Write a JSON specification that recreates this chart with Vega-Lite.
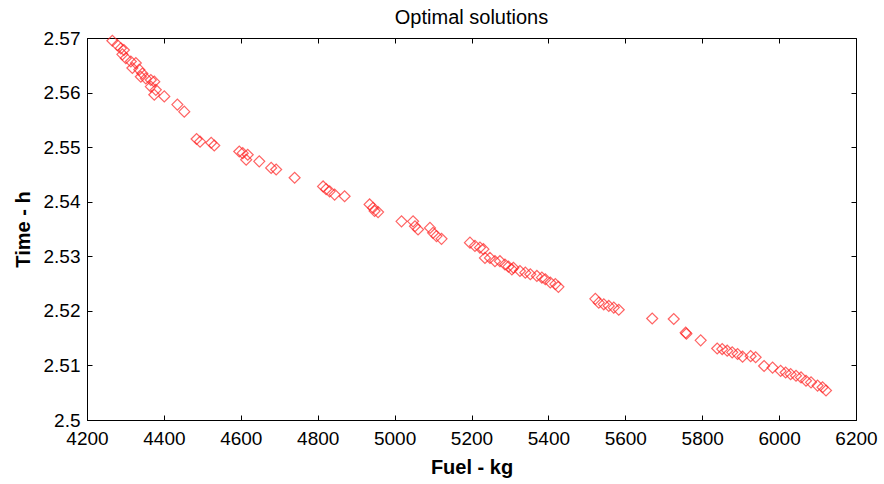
{
  "$schema": "https://vega.github.io/schema/vega-lite/v6.json",
  "autosize": {"type": "none"},
  "padding": {"left": 87, "top": 38, "right": 28, "bottom": 64},
  "width": 769,
  "height": 382,
  "background": "white",
  "title": {"text": "Optimal solutions", "fontSize": 20, "fontWeight": "normal", "font": "Liberation Sans", "color": "#000", "offset": 1},
  "config": {
    "view": {"stroke": "#000", "strokeWidth": 1},
    "axis": {
      "grid": false,
      "domainColor": "#000",
      "tickColor": "#000",
      "tickSize": 5,
      "labelFont": "Liberation Sans",
      "labelFontSize": 19,
      "labelColor": "#000",
      "titleFont": "Liberation Sans",
      "titleFontSize": 20,
      "titleFontWeight": "bold",
      "titleColor": "#000"
    }
  },
  "data": {"values": [
    {"fuel": 4266, "time": 2.5695}, {"fuel": 4279, "time": 2.5687}, {"fuel": 4288, "time": 2.5681}, {"fuel": 4296, "time": 2.5678},
    {"fuel": 4292, "time": 2.5670}, {"fuel": 4301, "time": 2.5663}, {"fuel": 4314, "time": 2.5657}, {"fuel": 4327, "time": 2.5654},
    {"fuel": 4318, "time": 2.5645}, {"fuel": 4336, "time": 2.5642}, {"fuel": 4344, "time": 2.5635}, {"fuel": 4340, "time": 2.5629},
    {"fuel": 4353, "time": 2.5626}, {"fuel": 4366, "time": 2.5623}, {"fuel": 4375, "time": 2.5620}, {"fuel": 4366, "time": 2.5611},
    {"fuel": 4379, "time": 2.5605}, {"fuel": 4375, "time": 2.5596}, {"fuel": 4401, "time": 2.5593}, {"fuel": 4435, "time": 2.5578},
    {"fuel": 4453, "time": 2.5565}, {"fuel": 4485, "time": 2.5515}, {"fuel": 4494, "time": 2.5510}, {"fuel": 4523, "time": 2.5508},
    {"fuel": 4531, "time": 2.5503}, {"fuel": 4596, "time": 2.5492}, {"fuel": 4605, "time": 2.5489}, {"fuel": 4618, "time": 2.5486},
    {"fuel": 4614, "time": 2.5477}, {"fuel": 4648, "time": 2.5474}, {"fuel": 4679, "time": 2.5462}, {"fuel": 4692, "time": 2.5459},
    {"fuel": 4740, "time": 2.5444}, {"fuel": 4814, "time": 2.5428}, {"fuel": 4822, "time": 2.5423}, {"fuel": 4831, "time": 2.5419},
    {"fuel": 4844, "time": 2.5413}, {"fuel": 4870, "time": 2.5410}, {"fuel": 4935, "time": 2.5395}, {"fuel": 4944, "time": 2.5389},
    {"fuel": 4948, "time": 2.5383}, {"fuel": 4957, "time": 2.5381}, {"fuel": 5018, "time": 2.5364}, {"fuel": 5048, "time": 2.5364},
    {"fuel": 5053, "time": 2.5355}, {"fuel": 5061, "time": 2.5349}, {"fuel": 5092, "time": 2.5352}, {"fuel": 5100, "time": 2.5343},
    {"fuel": 5109, "time": 2.5337}, {"fuel": 5122, "time": 2.5332}, {"fuel": 5196, "time": 2.5325}, {"fuel": 5209, "time": 2.5319},
    {"fuel": 5222, "time": 2.5316}, {"fuel": 5231, "time": 2.5313}, {"fuel": 5235, "time": 2.5297}, {"fuel": 5248, "time": 2.5297},
    {"fuel": 5261, "time": 2.5291}, {"fuel": 5274, "time": 2.5291}, {"fuel": 5287, "time": 2.5285}, {"fuel": 5296, "time": 2.5281},
    {"fuel": 5305, "time": 2.5276}, {"fuel": 5309, "time": 2.5279}, {"fuel": 5326, "time": 2.5273}, {"fuel": 5340, "time": 2.5270},
    {"fuel": 5353, "time": 2.5267}, {"fuel": 5370, "time": 2.5264}, {"fuel": 5383, "time": 2.5261}, {"fuel": 5392, "time": 2.5258},
    {"fuel": 5405, "time": 2.5252}, {"fuel": 5418, "time": 2.5249}, {"fuel": 5426, "time": 2.5244}, {"fuel": 5522, "time": 2.5222},
    {"fuel": 5531, "time": 2.5215}, {"fuel": 5544, "time": 2.5212}, {"fuel": 5557, "time": 2.5209}, {"fuel": 5570, "time": 2.5206},
    {"fuel": 5583, "time": 2.5202}, {"fuel": 5670, "time": 2.5186}, {"fuel": 5726, "time": 2.5185}, {"fuel": 5757, "time": 2.5160},
    {"fuel": 5759, "time": 2.5158}, {"fuel": 5796, "time": 2.5146}, {"fuel": 5839, "time": 2.5131}, {"fuel": 5852, "time": 2.5130},
    {"fuel": 5865, "time": 2.5127}, {"fuel": 5878, "time": 2.5124}, {"fuel": 5892, "time": 2.5121}, {"fuel": 5905, "time": 2.5116},
    {"fuel": 5926, "time": 2.5117}, {"fuel": 5939, "time": 2.5115}, {"fuel": 5961, "time": 2.5099}, {"fuel": 5983, "time": 2.5096},
    {"fuel": 6004, "time": 2.5090}, {"fuel": 6017, "time": 2.5087}, {"fuel": 6030, "time": 2.5084}, {"fuel": 6044, "time": 2.5081},
    {"fuel": 6057, "time": 2.5078}, {"fuel": 6070, "time": 2.5072}, {"fuel": 6083, "time": 2.5069}, {"fuel": 6100, "time": 2.5063},
    {"fuel": 6113, "time": 2.5060}, {"fuel": 6122, "time": 2.5054}
  ]},
  "layer": [
    {
      "mark": {"type": "point", "shape": "diamond", "filled": false, "color": "#ff2222", "size": 120, "strokeWidth": 1.2},
      "encoding": {
        "x": {"field": "fuel", "type": "quantitative",
              "scale": {"domain": [4200, 6200], "nice": false, "zero": false},
              "axis": {"orient": "bottom", "title": "Fuel - kg", "ticks": false, "values": [4200, 4400, 4600, 4800, 5000, 5200, 5400, 5600, 5800, 6000, 6200], "format": "d", "labelPadding": 9, "titlePadding": 9, "labelFlush": false, "labelOverlap": false}},
        "y": {"field": "time", "type": "quantitative",
              "scale": {"domain": [2.5, 2.57], "nice": false, "zero": false},
              "axis": {"orient": "left", "title": "Time - h", "ticks": false, "values": [2.5, 2.51, 2.52, 2.53, 2.54, 2.55, 2.56, 2.57], "format": ".2~f", "labelPadding": 7, "titlePadding": 10, "labelFlush": false, "labelOverlap": false}}
      }
    },
    {
      "mark": {"type": "point", "opacity": 0},
      "encoding": {
        "x": {"field": "fuel", "type": "quantitative",
              "axis": {"orient": "top", "title": null, "labels": false, "domain": false, "offset": -5, "values": [4200, 4400, 4600, 4800, 5000, 5200, 5400, 5600, 5800, 6000, 6200]}},
        "y": {"field": "time", "type": "quantitative",
              "axis": {"orient": "right", "title": null, "labels": false, "domain": false, "offset": -5, "values": [2.5, 2.51, 2.52, 2.53, 2.54, 2.55, 2.56, 2.57]}}
      }
    },
    {
      "mark": {"type": "point", "opacity": 0},
      "encoding": {
        "x": {"field": "fuel", "type": "quantitative",
              "axis": {"orient": "bottom", "title": null, "labels": false, "domain": false, "offset": -5, "values": [4200, 4400, 4600, 4800, 5000, 5200, 5400, 5600, 5800, 6000, 6200]}},
        "y": {"field": "time", "type": "quantitative",
              "axis": {"orient": "left", "title": null, "labels": false, "domain": false, "offset": -5, "values": [2.5, 2.51, 2.52, 2.53, 2.54, 2.55, 2.56, 2.57]}}
      }
    }
  ],
  "resolve": {"axis": {"x": "independent", "y": "independent"}}
}
